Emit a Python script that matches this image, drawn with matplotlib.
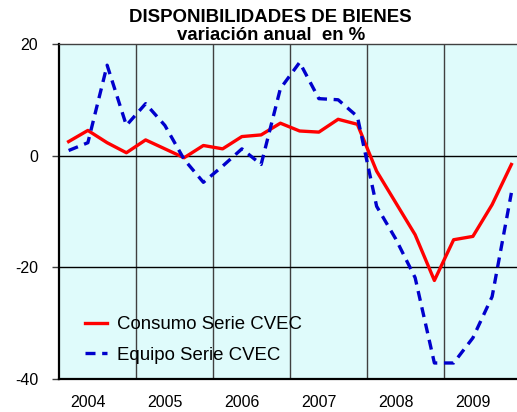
import matplotlib
matplotlib.use("Agg")
import matplotlib.pyplot as plt
import numpy as np

plt.rcParams['font.family'] = ['Liberation Sans', 'DejaVu Sans']

# datos trimestrales 2004-2009 (variación anual en %)
years = ['2004', '2005', '2006', '2007', '2008', '2009']
consumo = [2.5, 4.5, 2.3, 0.5, 2.8, 1.2, -0.4, 1.8, 1.2, 3.4, 3.7, 5.8,
           4.4, 4.2, 6.5, 5.6, -2.8, -8.5, -14.2, -22.4, -15.1, -14.5, -8.8, -1.6]
equipo = [0.9, 2.3, 16.2, 5.4, 9.3, 5.4, -0.7, -4.8, -1.9, 1.2, -1.6, 12.0,
          16.7, 10.2, 10.0, 7.0, -9.1, -15.0, -21.9, -37.2, -37.2, -32.7, -25.3, -6.7]

fig = plt.figure(figsize=(5.17, 4.12), dpi=100)
ax = fig.add_axes([59/517, 33.4/412, 462/517, 334.6/412])
ax.set_facecolor('#DFFBFB')

x = np.arange(len(consumo))
ax.plot(x, consumo, color='#FF0000', lw=2.4, label='Consumo Serie CVEC', zorder=3)
ax.plot(x, equipo, color='#0000CC', lw=2.4, ls=(0, (3, 2)), label='Equipo Serie CVEC', zorder=3)

# líneas de separación de años
for k in range(1, len(years)):
    ax.axvline(4*k - 0.5, color='#404040', lw=1, zorder=1)
for yv in [0, -20]:
    ax.axhline(yv, color='black', lw=1, zorder=1)

ax.set_xlim(-0.5, len(consumo) - 0.5)
ax.set_ylim(-40, 20)
ax.set_yticks([-40, -20, 0, 20])
ax.set_yticklabels(['-40', '-20', '0', '20'])
ax.set_xticks([4*k + 1.0 for k in range(len(years))])
ax.set_xticklabels(years)
ax.tick_params(axis='y', length=5, width=1, color='#404040', pad=10, labelsize=11.5)
ax.tick_params(axis='x', length=0, pad=12, labelsize=11.5)

ax.spines['left'].set_linewidth(1.6)
ax.spines['bottom'].set_linewidth(1.6)
ax.spines['top'].set_color('#404040')
ax.spines['top'].set_linewidth(1)
ax.spines['right'].set_visible(False)

ax.legend(loc='lower left', bbox_to_anchor=(0.02, -0.005), frameon=False,
          fontsize=13.4, handlelength=1.2, handletextpad=0.5, labelspacing=0.72)

fig.text(270/517, 1 - 17/412, 'DISPONIBILIDADES DE BIENES', ha='center', va='center',
         fontsize=13.4, fontweight='bold')
fig.text(271/517, 1 - 36/412, 'variación anual  en %', ha='center', va='center',
         fontsize=13.4, fontweight='bold')

fig.savefig('out.png', dpi=100)
